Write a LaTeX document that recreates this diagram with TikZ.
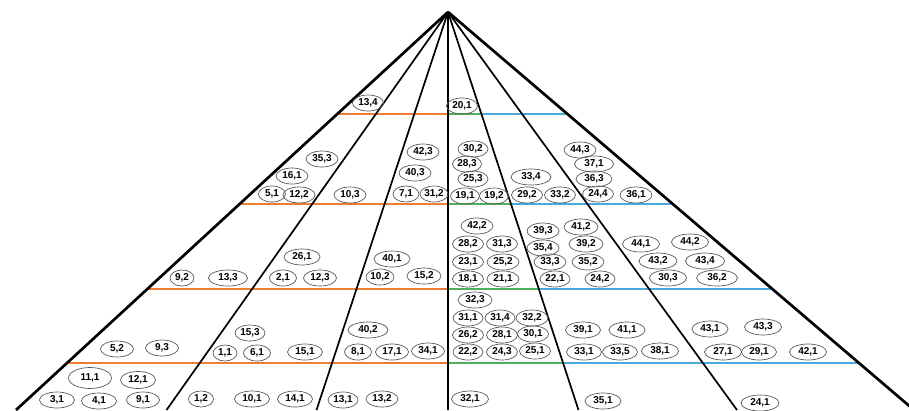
\documentclass[tikz,border=0pt]{standalone}
\usepackage{fontspec}
\setmainfont{Liberation Sans}
\usetikzlibrary{shapes.geometric,calc}
\definecolor{orng}{RGB}{237,125,49}
\definecolor{grn}{RGB}{80,175,90}
\definecolor{blu}{RGB}{70,170,220}
\begin{document}
\begin{tikzpicture}[x=1pt,y=-1pt,
  lab/.style={ellipse,draw=black!65,line width=0.7pt,inner sep=0pt,
    minimum width=32pt,minimum height=16pt,
    font=\fontsize{10}{11}\selectfont\bfseries},
  ray/.style={line width=1.7pt},
  outer/.style={line width=2.7pt},
  hl/.style={line width=1.7pt}]
\useasboundingbox (0,0) rectangle (909,410);
\clip (0,0) rectangle (909,410);
% rays
\coordinate (apex) at (448,12);
\coordinate (b1) at (16,410);
\coordinate (b2) at (166.5,410);
\coordinate (b3) at (316.5,410);
\coordinate (b4) at (448,410);
\coordinate (b5) at (578.5,410);
\coordinate (b6) at (737,410);
\coordinate (b7) at (914,410);
% horizontal levels
\foreach \k/\t in {1/0.2563,2/0.4824,3/0.6960,4/0.8819}{
  \coordinate (l\k) at ($(apex)!\t!(b1)$);
  \coordinate (m\k) at ($(apex)!\t!(b4)$);
  \coordinate (g\k) at ($(apex)!\t!(b5)$);
  \coordinate (r\k) at ($(apex)!\t!(b7)$);
}
\foreach \k in {1,2,3,4}{
  \draw[hl,orng] (l\k) -- (m\k);
  \draw[hl,grn] (m\k) -- (g\k);
  \draw[hl,blu] (g\k) -- (r\k);
}
\draw[outer] (apex) -- (b1);
\draw[ray] (apex) -- (b2);
\draw[ray] (apex) -- (b3);
\draw[ray] (apex) -- (b4);
\draw[ray] (apex) -- (b5);
\draw[ray] (apex) -- (b6);
\draw[outer] (apex) -- (b7);
% tier 1
\node[lab,minimum width=31pt] (n13-4) at (368,103) {13,4};
\node[lab,minimum width=31pt] (n20-1) at (462,106) {20,1};
% tier 2
\node[lab] (n35-3) at (322,159) {35,3};
\node[lab] (n16-1) at (292,176) {16,1};
\node[lab,minimum width=27pt] (n5-1) at (272,194) {5,1};
\node[lab] (n12-2) at (299,195) {12,2};
\node[lab] (n10-3) at (350,195) {10,3};
\node[lab] (n42-3) at (423,152) {42,3};
\node[lab] (n40-3) at (415,173) {40,3};
\node[lab,minimum width=26pt] (n7-1) at (406,194) {7,1};
\node[lab,minimum width=28pt] (n31-2) at (434,194) {31,2};
\node[lab,minimum width=30pt] (n30-2) at (473,149) {30,2};
\node[lab,minimum width=29pt] (n28-3) at (467,164) {28,3};
\node[lab,minimum width=30pt] (n25-3) at (473,179) {25,3};
\node[lab,minimum width=29pt] (n19-1) at (465,196) {19,1};
\node[lab,minimum width=29pt] (n19-2) at (494,196) {19,2};
\node[lab,minimum width=40pt] (n33-4) at (531,177) {33,4};
\node[lab,minimum width=31pt] (n29-2) at (527,195) {29,2};
\node[lab,minimum width=31pt] (n33-2) at (560,195) {33,2};
\node[lab] (n44-3) at (580,150) {44,3};
\node[lab,minimum width=39pt] (n37-1) at (594,164) {37,1};
\node[lab,minimum width=36pt] (n36-3) at (594,179) {36,3};
\node[lab,minimum width=31pt] (n24-4) at (598,194) {24,4};
\node[lab] (n36-1) at (636,195) {36,1};
% tier 3
\node[lab,minimum width=36pt] (n26-1) at (302,257) {26,1};
\node[lab,minimum width=36pt] (n40-1) at (392,259) {40,1};
\node[lab,minimum width=24pt] (n9-2) at (182,278) {9,2};
\node[lab,minimum width=39pt] (n13-3) at (228,278) {13,3};
\node[lab,minimum width=27pt] (n2-1) at (283,278) {2,1};
\node[lab,minimum width=33pt] (n12-3) at (320,278) {12,3};
\node[lab,minimum width=28pt] (n10-2) at (380,277) {10,2};
\node[lab,minimum width=34pt] (n15-2) at (424,276) {15,2};
\node[lab,minimum width=32pt] (n42-2) at (477,226) {42,2};
\node[lab,minimum width=31pt] (n28-2) at (468,244) {28,2};
\node[lab,minimum width=31pt] (n31-3) at (502,244) {31,3};
\node[lab,minimum width=31pt] (n23-1) at (468,262) {23,1};
\node[lab,minimum width=32pt] (n25-2) at (503,262) {25,2};
\node[lab,minimum width=31pt] (n18-1) at (468,279) {18,1};
\node[lab,minimum width=32pt] (n21-1) at (503,279) {21,1};
\node[lab,minimum width=32pt] (n39-3) at (543,231) {39,3};
\node[lab,minimum width=34pt] (n41-2) at (581,227) {41,2};
\node[lab,minimum width=32pt] (n35-4) at (543,248) {35,4};
\node[lab,minimum width=34pt] (n39-2) at (586,244) {39,2};
\node[lab,minimum width=32pt] (n33-3) at (550,262) {33,3};
\node[lab,minimum width=32pt] (n35-2) at (588,262) {35,2};
\node[lab,minimum width=30pt] (n22-1) at (555,279) {22,1};
\node[lab,minimum width=30pt] (n24-2) at (600,279) {24,2};
\node[lab,minimum width=37pt] (n44-1) at (641,244) {44,1};
\node[lab,minimum width=37pt] (n44-2) at (690,242) {44,2};
\node[lab,minimum width=38pt] (n43-2) at (658,261) {43,2};
\node[lab,minimum width=39pt] (n43-4) at (705,261) {43,4};
\node[lab,minimum width=37pt] (n30-3) at (668,278) {30,3};
\node[lab,minimum width=41pt] (n36-2) at (717,278) {36,2};
% tier 4
\node[lab,minimum width=33pt] (n5-2) at (117,349) {5,2};
\node[lab,minimum width=33pt] (n9-3) at (162,348) {9,3};
\node[lab,minimum width=30pt] (n15-3) at (250,333) {15,3};
\node[lab,minimum width=24pt] (n1-1) at (225,353) {1,1};
\node[lab,minimum width=27pt] (n6-1) at (257,353) {6,1};
\node[lab,minimum width=35pt] (n15-1) at (305,352) {15,1};
\node[lab,minimum width=40pt] (n40-2) at (368,330) {40,2};
\node[lab,minimum width=27pt] (n8-1) at (358,352) {8,1};
\node[lab,minimum width=33pt] (n17-1) at (392,352) {17,1};
\node[lab,minimum width=33pt] (n34-1) at (428,351) {34,1};
\node[lab,minimum width=34pt] (n32-3) at (475,300) {32,3};
\node[lab,minimum width=30pt] (n31-1) at (468,318) {31,1};
\node[lab,minimum width=30pt] (n31-4) at (500,318) {31,4};
\node[lab,minimum width=32pt] (n32-2) at (532,318) {32,2};
\node[lab,minimum width=31pt] (n26-2) at (468,335) {26,2};
\node[lab,minimum width=31pt] (n28-1) at (502,335) {28,1};
\node[lab,minimum width=31pt] (n30-1) at (533,334) {30,1};
\node[lab,minimum width=30pt] (n22-2) at (468,352) {22,2};
\node[lab,minimum width=31pt] (n24-3) at (502,352) {24,3};
\node[lab,minimum width=31pt] (n25-1) at (535,351) {25,1};
\node[lab,minimum width=35pt] (n39-1) at (583,330) {39,1};
\node[lab,minimum width=36pt] (n41-1) at (627,330) {41,1};
\node[lab,minimum width=35pt] (n33-1) at (584,352) {33,1};
\node[lab,minimum width=35pt] (n33-5) at (620,352) {33,5};
\node[lab,minimum width=37pt] (n38-1) at (660,351) {38,1};
\node[lab,minimum width=36pt] (n43-1) at (710,329) {43,1};
\node[lab,minimum width=37pt] (n43-3) at (763,327) {43,3};
\node[lab,minimum width=37pt] (n27-1) at (723,352) {27,1};
\node[lab,minimum width=35pt] (n29-1) at (759,352) {29,1};
\node[lab,minimum width=37pt] (n42-1) at (808,352) {42,1};
% tier 5
\node[lab,minimum width=43pt,minimum height=21pt] (n11-1) at (90,378) {11,1};
\node[lab,minimum width=35pt,minimum height=17pt] (n12-1) at (138,380) {12,1};
\node[lab,minimum width=35pt] (n3-1) at (57,400) {3,1};
\node[lab,minimum width=35pt] (n4-1) at (99,401) {4,1};
\node[lab,minimum width=33pt] (n9-1) at (143,400) {9,1};
\node[lab,minimum width=25pt] (n1-2) at (201,399) {1,2};
\node[lab,minimum width=35pt] (n10-1) at (252,399) {10,1};
\node[lab,minimum width=35pt] (n14-1) at (295,399) {14,1};
\node[lab,minimum width=30pt] (n13-1) at (343,400) {13,1};
\node[lab,minimum width=32pt] (n13-2) at (382,399) {13,2};
\node[lab,minimum width=37pt] (n32-1) at (470,399) {32,1};
\node[lab,minimum width=36pt] (n35-1) at (603,401) {35,1};
\node[lab,minimum width=38pt] (n24-1) at (760,403) {24,1};
\end{tikzpicture}
\end{document}
